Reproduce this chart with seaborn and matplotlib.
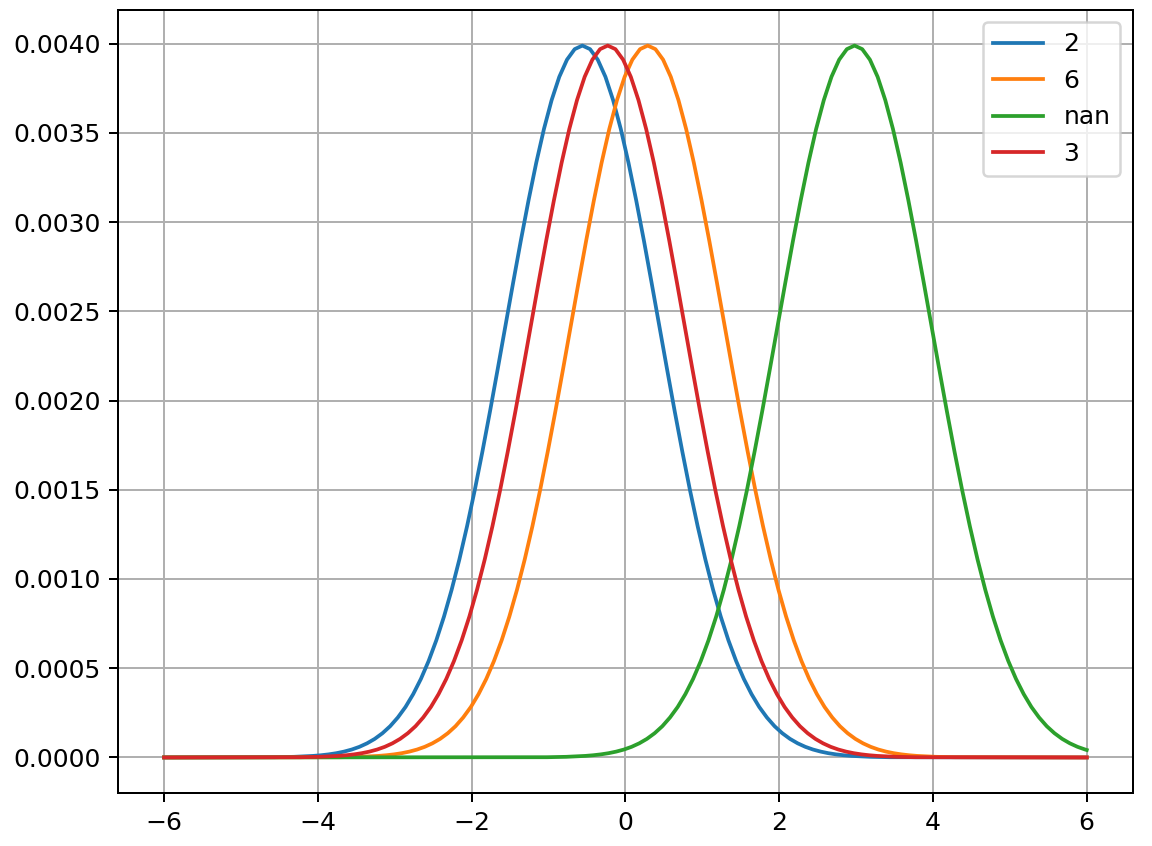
import pandas as pd
import seaborn as sns
import matplotlib.pyplot as plt

# --- data ---
# every curve has the same bell shape (peak 0.0040), only the peak position differs
labels = ["2", "6", "nan", "3"]
peaks = [-0.56, 0.29, 2.98, -0.23]
colors = ["#1f77b4", "#ff7f0e", "#2ca02c", "#d62728"]

# distance from the peak (right half, the left half is the mirror image)
offsets_half = [0.0, 0.1, 0.2, 0.3, 0.4, 0.5, 0.6, 0.7, 0.8, 0.9,
                1.0, 1.1, 1.2, 1.3, 1.4, 1.5, 1.6, 1.7, 1.8, 1.9,
                2.0, 2.1, 2.2, 2.3, 2.4, 2.5, 2.6, 2.7, 2.8, 2.9,
                3.0, 3.1, 3.2, 3.3, 3.4, 3.5, 3.75, 4.0]
profile_half = [0.003989, 0.003969, 0.003910, 0.003814, 0.003683, 0.003521,
                0.003332, 0.003122, 0.002897, 0.002661, 0.002420, 0.002179,
                0.001942, 0.001714, 0.001497, 0.001295, 0.001109, 0.000940,
                0.000789, 0.000656, 0.000540, 0.000440, 0.000355, 0.000283,
                0.000224, 0.000175, 0.0001358, 0.0001042, 0.0000792,
                0.0000595, 0.0000443, 0.0000327, 0.0000238, 0.0000172,
                0.0000123, 0.0000087, 0.0000035, 0.0000013]

# the curves are drawn from -6 to 6, value at those two ends
x_ends = [-6.0, 6.0]
y_left_end = [0.0, 0.0, 0.0, 0.0]
y_right_end = [0.0, 0.0, 0.0000417, 0.0]

# --- long table for seaborn ---
offsets = [-d for d in offsets_half[:0:-1]] + offsets_half
profile = profile_half[:0:-1] + profile_half

rows = []
for lab, pk, yl, yr in zip(labels, peaks, y_left_end, y_right_end):
    rows.append((x_ends[0], yl, lab))
    for d, v in zip(offsets, profile):
        x = round(pk + d, 3)
        if x_ends[0] < x < x_ends[1]:
            rows.append((x, v, lab))
    rows.append((x_ends[1], yr, lab))
df = pd.DataFrame(rows, columns=["x", "y", "serie"])

fig = plt.figure(figsize=(6.4, 4.7), dpi=180)
ax = fig.add_axes([0.1024, 0.0626, 0.881, 0.9256])

sns.lineplot(data=df, x="x", y="y", hue="serie", hue_order=labels,
             palette=colors, estimator=None, sort=True, linewidth=1.5, ax=ax)

ax.grid(True)
ax.set_xlabel("")
ax.set_ylabel("")
ax.set_xticks([-6, -4, -2, 0, 2, 4, 6])
ax.set_yticks([0.0, 0.0005, 0.0010, 0.0015, 0.0020, 0.0025, 0.0030, 0.0035, 0.0040])
ax.set_yticklabels([f"{t:.4f}" for t in ax.get_yticks()])
ax.set_xticklabels(["\u22126", "\u22124", "\u22122", "0", "2", "4", "6"])
sns.move_legend(ax, "upper right", title=None)

plt.savefig("out.png", dpi=180)
